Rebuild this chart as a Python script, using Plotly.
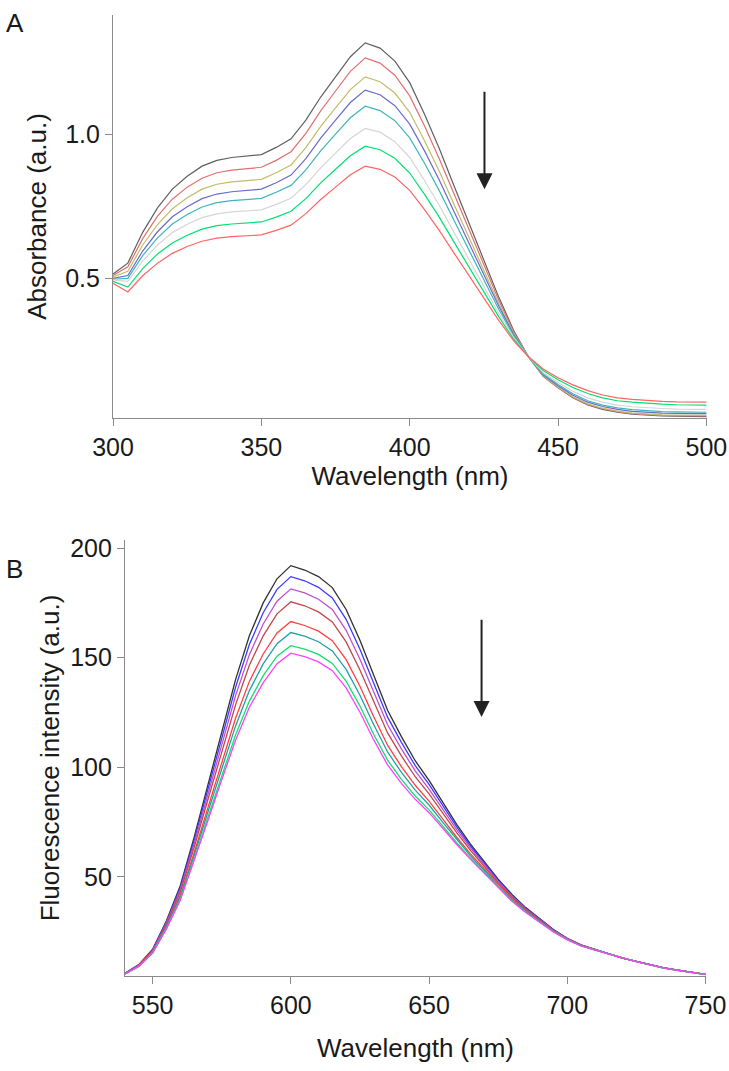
import plotly.graph_objects as go

# ---------------- Panel A: absorbance ----------------
wl_abs = list(range(300, 505, 5))

abs_black = [0.515, 0.553, 0.66, 0.745, 0.81, 0.855, 0.89, 0.91, 0.92, 0.925, 0.93, 0.955, 0.985, 1.05, 1.13, 1.20, 1.27, 1.318,
             1.30, 1.255, 1.18, 1.07, 0.95, 0.82, 0.69, 0.56, 0.435, 0.32, 0.228,
             0.16, 0.12, 0.085, 0.06, 0.045, 0.035, 0.028, 0.024, 0.022, 0.021, 0.02, 0.02]
abs_salmon = [0.51, 0.54, 0.638, 0.716, 0.775, 0.817, 0.848, 0.867, 0.876, 0.881, 0.886, 0.910, 0.940, 1.004, 1.082, 1.151, 1.219, 1.266,
              1.248, 1.206, 1.134, 1.029, 0.915, 0.792, 0.668, 0.545, 0.425, 0.315, 0.228,
              0.161, 0.121, 0.087, 0.062, 0.047, 0.037, 0.030, 0.026, 0.024, 0.023, 0.022, 0.022]
abs_olive = [0.505, 0.525, 0.616, 0.687, 0.742, 0.780, 0.810, 0.827, 0.835, 0.840, 0.844, 0.867, 0.894, 0.954, 1.028, 1.092, 1.156, 1.200,
             1.183, 1.144, 1.077, 0.978, 0.871, 0.756, 0.640, 0.524, 0.413, 0.310, 0.228,
             0.162, 0.123, 0.089, 0.064, 0.049, 0.039, 0.032, 0.028, 0.026, 0.025, 0.024, 0.024]
abs_blue = [0.50, 0.51, 0.595, 0.662, 0.714, 0.749, 0.777, 0.793, 0.801, 0.805, 0.810, 0.832, 0.859, 0.916, 0.987, 1.050, 1.111, 1.154,
            1.138, 1.100, 1.036, 0.943, 0.841, 0.731, 0.621, 0.510, 0.404, 0.306, 0.228,
            0.165, 0.127, 0.094, 0.070, 0.055, 0.045, 0.038, 0.034, 0.032, 0.031, 0.030, 0.030]
abs_teal = [0.497, 0.50, 0.579, 0.641, 0.689, 0.722, 0.748, 0.763, 0.770, 0.774, 0.778, 0.799, 0.823, 0.877, 0.943, 1.001, 1.058, 1.098,
            1.083, 1.048, 0.988, 0.900, 0.804, 0.700, 0.597, 0.493, 0.393, 0.301, 0.228,
            0.168, 0.131, 0.099, 0.075, 0.060, 0.050, 0.044, 0.040, 0.037, 0.036, 0.035, 0.035]
abs_gray = [0.495, 0.49, 0.560, 0.616, 0.659, 0.688, 0.711, 0.724, 0.731, 0.735, 0.738, 0.757, 0.778, 0.826, 0.884, 0.935, 0.986, 1.021,
            1.008, 0.975, 0.920, 0.840, 0.753, 0.659, 0.564, 0.470, 0.379, 0.295, 0.228,
            0.173, 0.138, 0.108, 0.085, 0.070, 0.060, 0.054, 0.050, 0.048, 0.046, 0.045, 0.045]
abs_green = [0.49, 0.47, 0.534, 0.585, 0.623, 0.650, 0.671, 0.683, 0.689, 0.692, 0.696, 0.713, 0.733, 0.777, 0.832, 0.879, 0.926, 0.959,
             0.947, 0.917, 0.866, 0.792, 0.712, 0.625, 0.538, 0.451, 0.367, 0.289, 0.228,
             0.180, 0.148, 0.121, 0.100, 0.085, 0.075, 0.070, 0.066, 0.063, 0.061, 0.060, 0.060]
abs_red = [0.483, 0.453, 0.509, 0.553, 0.587, 0.611, 0.629, 0.640, 0.645, 0.648, 0.651, 0.667, 0.685, 0.725, 0.774, 0.817, 0.860, 0.890,
           0.879, 0.852, 0.806, 0.739, 0.666, 0.587, 0.509, 0.430, 0.354, 0.284, 0.228,
           0.185, 0.155, 0.130, 0.110, 0.095, 0.085, 0.080, 0.076, 0.073, 0.071, 0.070, 0.070]

abs_series = [abs_black, abs_salmon, abs_olive, abs_blue, abs_teal, abs_gray, abs_green, abs_red]
abs_colors = ["#606060", "#e07070", "#c0bd6a", "#6a6acc", "#40b4bc", "#d6d6d6", "#00e070", "#ff6464"]

# ---------------- Panel B: fluorescence ----------------
wl_fl = list(range(540, 755, 5))

fl_black = [6, 10, 17, 30, 46, 68, 92, 116, 140, 160, 175, 186, 192, 190, 187, 182, 172, 158, 142, 126, 114, 103, 94, 84, 74, 65,
            57, 49, 42, 36, 31, 26, 22, 19, 17, 15, 13, 11.5, 10, 8.5, 7.5, 6.5, 5.5]
fl_blue = [6.0, 9.9, 16.8, 29.5, 45.2, 66.6, 90.0, 113.3, 136.5, 156.0, 170.5, 181.2, 187.0, 185.1, 182.1, 177.3, 167.5, 153.9, 138.3,
           122.9, 111.4, 100.8, 92.2, 82.5, 72.8, 64.1, 56.3, 48.5, 41.6, 35.7, 30.8, 25.9, 21.9, 18.9, 16.9, 15.0, 13.0, 11.5, 10.0,
           8.5, 7.5, 6.5, 5.5]
fl_purple = [5.9, 9.8, 16.5, 29.0, 44.2, 65.1, 87.7, 110.3, 132.7, 151.4, 165.4, 175.8, 181.4, 179.6, 176.7, 172.0, 162.5, 149.3, 134.2,
             119.4, 108.4, 98.4, 90.1, 80.9, 71.6, 63.1, 55.6, 47.9, 41.2, 35.4, 30.6, 25.7, 21.8, 18.9, 16.9, 15.0, 13.0, 11.5, 10.0,
             8.5, 7.5, 6.5, 5.5]
fl_brown = [5.8, 9.7, 16.3, 28.4, 43.2, 63.4, 85.3, 107.1, 128.5, 146.6, 160.0, 170.0, 175.5, 173.7, 170.9, 166.3, 157.2, 144.4, 129.8,
            115.7, 105.2, 95.7, 87.9, 79.1, 70.2, 62.1, 54.8, 47.3, 40.7, 35.1, 30.3, 25.6, 21.7, 18.8, 16.8, 14.9, 12.9, 11.5, 10.0,
            8.5, 7.5, 6.5, 5.5]
fl_red = [5.8, 9.5, 15.9, 27.6, 41.7, 60.9, 81.6, 102.1, 122.4, 139.2, 151.7, 161.3, 166.5, 164.7, 162.1, 157.8, 149.1, 137.0, 123.1,
          110.1, 100.3, 91.8, 84.6, 76.4, 68.1, 60.5, 53.6, 46.4, 40.0, 34.6, 30.0, 25.3, 21.6, 18.7, 16.8, 14.9, 12.9, 11.4, 9.9,
          8.4, 7.4, 6.5, 5.5]
fl_teal = [5.7, 9.4, 15.7, 27.2, 40.9, 59.6, 79.6, 99.4, 118.9, 135.0, 147.2, 156.4, 161.5, 159.8, 157.3, 153.1, 144.7, 132.9, 119.4,
           107.0, 97.7, 89.6, 82.8, 74.9, 67.0, 59.6, 52.9, 45.9, 39.6, 34.3, 29.8, 25.2, 21.5, 18.6, 16.7, 14.9, 12.9, 11.4, 9.9,
           8.4, 7.4, 6.4, 5.5]
fl_green = [5.7, 9.2, 15.4, 26.6, 39.9, 57.9, 77.2, 96.2, 114.7, 130.2, 141.8, 150.7, 155.5, 153.9, 151.5, 147.4, 139.3, 128.0, 115.0,
            103.3, 94.5, 86.9, 80.6, 73.2, 65.6, 58.6, 52.1, 45.3, 39.2, 33.9, 29.5, 25.0, 21.4, 18.6, 16.7, 14.9, 12.9, 11.4, 9.9,
            8.4, 7.4, 6.4, 5.4]
fl_magenta = [5.6, 9.2, 15.2, 26.3, 39.3, 57.0, 75.7, 94.3, 112.3, 127.4, 138.6, 147.3, 152.1, 150.5, 148.1, 144.1, 136.2, 125.1, 112.5,
              101.1, 92.7, 85.4, 79.3, 72.2, 64.8, 58.0, 51.6, 44.9, 38.9, 33.8, 29.4, 24.9, 21.3, 18.5, 16.6, 14.9, 12.9, 11.4, 9.9,
              8.4, 7.4, 6.4, 5.4]

fl_series = [fl_black, fl_blue, fl_purple, fl_brown, fl_red, fl_teal, fl_green, fl_magenta]
fl_colors = ["#303030", "#3c3cff", "#c050d0", "#c04848", "#ff4040", "#20a0a8", "#10e070", "#ff40ff"]

abs_xticks = [300, 350, 400, 450, 500]
abs_yticks = [0.5, 1.0]
fl_xticks = [550, 600, 650, 700, 750]
fl_yticks = [50, 100, 150, 200]

FONT = "Liberation Sans, Arial, sans-serif"
W, H = 729, 1071


def px_x(p):
    return p / W


def px_y(p):
    return 1 - p / H


fig = go.Figure()
for ys, c in zip(abs_series, abs_colors):
    fig.add_trace(go.Scatter(x=wl_abs, y=ys, mode="lines", line=dict(color=c, width=1.2),
                             xaxis="x", yaxis="y", showlegend=False, hoverinfo="skip"))
for ys, c in zip(fl_series, fl_colors):
    fig.add_trace(go.Scatter(x=wl_fl, y=ys, mode="lines", line=dict(color=c, width=1.3),
                             xaxis="x2", yaxis="y2", showlegend=False, hoverinfo="skip"))

axis_common = dict(showline=True, linecolor="#8a8a8a", linewidth=1.2, ticks="outside", ticklen=7,
                   tickcolor="#8a8a8a", tickwidth=1.2, showgrid=False, zeroline=False,
                   ticklabeloverflow="allow",
                   tickfont=dict(family=FONT, size=25, color="#1a1a1a"), automargin=False)
title_font = dict(family=FONT, size=26, color="#1a1a1a")

fig.update_layout(
    width=W, height=H, margin=dict(l=0, r=0, t=0, b=0),
    paper_bgcolor="white", plot_bgcolor="white",
    xaxis=dict(domain=[px_x(113), px_x(707)], range=[300, 500.2], tickvals=abs_xticks, anchor="y",
               title=dict(text="Wavelength (nm)", font=title_font, standoff=4), **axis_common),
    yaxis=dict(domain=[px_y(418), px_y(15)], range=[0.015, 1.415], tickvals=abs_yticks,
               tickformat=".1f", anchor="x",
               title=dict(text="Absorbance (a.u.)", font=title_font, standoff=11), **axis_common),
    xaxis2=dict(domain=[px_x(125), px_x(706)], range=[540, 750.2], tickvals=fl_xticks, anchor="y2",
                title=dict(text="Wavelength (nm)", font=title_font, standoff=20), **axis_common),
    yaxis2=dict(domain=[px_y(976), px_y(540)], range=[4.8, 203.7], tickvals=fl_yticks, anchor="x2",
                title=dict(text="Fluorescence intensity (a.u.)", font=title_font, standoff=3), **axis_common),
    annotations=[
        dict(text="A", x=px_x(4), y=px_y(6), xref="paper", yref="paper", xanchor="left", yanchor="top",
             showarrow=False, font=dict(family=FONT, size=26, color="#1a1a1a")),
        dict(text="B", x=px_x(4), y=px_y(552), xref="paper", yref="paper", xanchor="left", yanchor="top",
             showarrow=False, font=dict(family=FONT, size=26, color="#1a1a1a")),
        dict(x=425.2, y=0.81, ax=425.2, ay=1.154, xref="x", yref="y", axref="x", ayref="y",
             text="", showarrow=True, arrowhead=2, arrowsize=1.6, arrowwidth=2, arrowcolor="#222222"),
        dict(x=669, y=123, ax=669, ay=168, xref="x2", yref="y2", axref="x2", ayref="y2",
             text="", showarrow=True, arrowhead=2, arrowsize=1.6, arrowwidth=2, arrowcolor="#222222"),
    ],
)

fig.write_html("out.html", config={"displayModeBar": False},
               post_script="document.body.style.margin='0';document.body.style.overflow='hidden';")
